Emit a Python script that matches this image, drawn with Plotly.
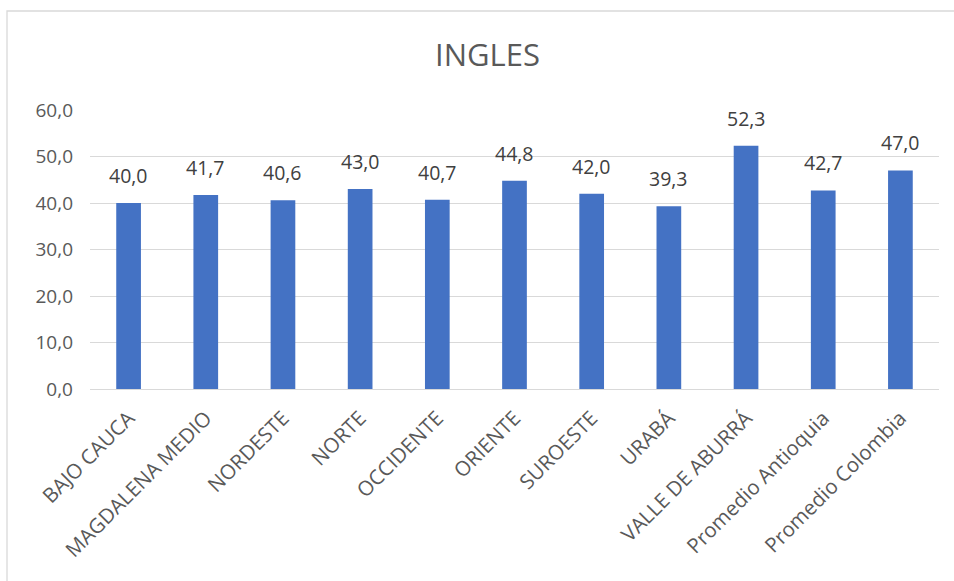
import plotly.graph_objects as go

categories = ["BAJO CAUCA", "MAGDALENA MEDIO", "NORDESTE", "NORTE", "OCCIDENTE",
              "ORIENTE", "SUROESTE", "URABÁ", "VALLE DE ABURRÁ",
              "Promedio Antioquia", "Promedio Colombia"]
values = [40.0, 41.7, 40.6, 43.0, 40.7, 44.8, 42.0, 39.3, 52.3, 42.7, 47.0]
y_ticks = [0, 10, 20, 30, 40, 50, 60]

W, H = 954, 581
ml, mr, mt, mb = 90, 15, 110, 192
pw, ph = W - ml - mr, H - mt - mb

FONT = "Open Sans"
fig = go.Figure()
fig.add_trace(go.Bar(x=categories, y=values, marker=dict(color="#4472C4", line=dict(width=0)),
                     hoverinfo="skip"))

for c, v in zip(categories, values):
    fig.add_annotation(x=c, y=v, text=f"{v:.1f}".replace(".", ","), showarrow=False,
                       yanchor="bottom", yshift=12,
                       font=dict(family=FONT, size=19.5, color="#404040"))

# outer chart border
x0 = (7 - ml) / pw
x1 = (W + 10 - ml) / pw
y_top = (H - mb - 11) / ph
y_bot = (H - mb - (H + 10)) / ph
fig.add_shape(type="rect", xref="paper", yref="paper", x0=x0, x1=x1, y0=y_bot, y1=y_top,
              line=dict(color="#D9D9D9", width=1.3), layer="below")

fig.update_layout(
    width=W, height=H,
    margin=dict(l=ml, r=mr, t=mt, b=mb),
    paper_bgcolor="white", plot_bgcolor="white",
    separators=",.",
    bargap=0.68,
    showlegend=False,
    title=dict(text="INGLES", x=487.5 / W, xref="container", xanchor="center",
               y=1 - 55 / H, yref="container", yanchor="middle",
               font=dict(family=FONT, size=31, color="#595959")),
    font=dict(family=FONT, color="#595959"),
    xaxis=dict(showgrid=False, showline=True, linecolor="#D9D9D9", linewidth=1.3,
               tickangle=-45, ticks="", ticklabelstandoff=8,
               tickfont=dict(family=FONT, size=20.5, color="#595959")),
    yaxis=dict(range=[0, 60], tickvals=y_ticks, tickformat=".1f",
               showgrid=True, gridcolor="#D9D9D9", gridwidth=1.3,
               zeroline=False, showline=False, ticks="", ticklabelstandoff=16,
               tickfont=dict(family=FONT, size=19, color="#595959")),
)

fig.write_html("out.html", config={"displayModeBar": False},
               post_script="document.body.style.margin='0';document.body.style.overflow='hidden';")
